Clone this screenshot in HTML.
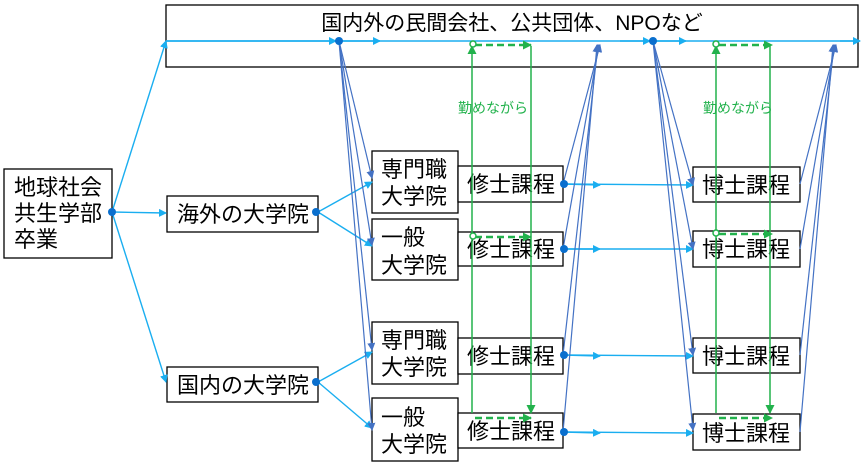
<!DOCTYPE html>
<html><head><meta charset="utf-8"><style>
html,body{margin:0;padding:0;background:#fff;}
svg{display:block;font-family:"Liberation Sans","Noto Sans CJK JP",sans-serif;}
</style></head><body>
<svg width="866" height="468" viewBox="0 0 866 468">
<defs>
<marker id="al" markerWidth="8" markerHeight="8" refX="7" refY="4" orient="auto" markerUnits="userSpaceOnUse"><path d="M0,0 L8,4 L0,8z" fill="#1aaef0"/></marker>
<marker id="ad" markerWidth="8" markerHeight="8" refX="7" refY="4" orient="auto" markerUnits="userSpaceOnUse"><path d="M0,0 L8,4 L0,8z" fill="#4472c4"/></marker>
<marker id="ag" markerWidth="9" markerHeight="9" refX="8" refY="4.5" orient="auto" markerUnits="userSpaceOnUse"><path d="M0,0 L9,4.5 L0,9z" fill="#22b24c"/></marker>
</defs>
<g stroke="#000" stroke-width="1.3" fill="#fff">
<rect x="166" y="5" width="692" height="62"/>
<rect x="4" y="169" width="108" height="89"/>
<rect x="167" y="196" width="151" height="36"/>
<rect x="167" y="367" width="151" height="35"/>
<rect x="372" y="151" width="86" height="62"/>
<rect x="372" y="219" width="86" height="61"/>
<rect x="372" y="322" width="86" height="62"/>
<rect x="372" y="398" width="86" height="63"/>
<rect x="458" y="166" width="105" height="36"/>
<rect x="458" y="232" width="105" height="34"/>
<rect x="458" y="338" width="105" height="36"/>
<rect x="458" y="413" width="105" height="35"/>
<rect x="693" y="167" width="107" height="35"/>
<rect x="693" y="231" width="107" height="36"/>
<rect x="693" y="338" width="107" height="35"/>
<rect x="693" y="414" width="107" height="36"/>
</g>
<g font-size="22" fill="#000">
<text x="512" y="30" text-anchor="middle" font-size="21">国内外の民間会社、公共団体、NPOなど</text>
<text x="14" y="195">地球社会</text>
<text x="14" y="221">共生学部</text>
<text x="14" y="247">卒業</text>
<text x="243" y="222" text-anchor="middle">海外の大学院</text>
<text x="243" y="393" text-anchor="middle">国内の大学院</text>
<text x="381" y="177">専門職</text><text x="381" y="204">大学院</text>
<text x="381" y="245">一般</text><text x="381" y="273">大学院</text>
<text x="381" y="348">専門職</text><text x="381" y="375">大学院</text>
<text x="381" y="425">一般</text><text x="381" y="452">大学院</text>
<text x="511" y="192" text-anchor="middle">修士課程</text>
<text x="511" y="257" text-anchor="middle">修士課程</text>
<text x="511" y="364" text-anchor="middle">修士課程</text>
<text x="511" y="439" text-anchor="middle">修士課程</text>
<text x="746" y="193" text-anchor="middle">博士課程</text>
<text x="746" y="257" text-anchor="middle">博士課程</text>
<text x="746" y="364" text-anchor="middle">博士課程</text>
<text x="746" y="441" text-anchor="middle">博士課程</text>
</g>
<g stroke="#1aaef0" stroke-width="1.4" fill="none">
<line x1="166" y1="41" x2="858" y2="41"/>
<line x1="166" y1="41" x2="336" y2="41" marker-end="url(#al)"/>
<line x1="339" y1="41" x2="380" y2="41" marker-end="url(#al)"/>
<line x1="653" y1="41" x2="686" y2="41" marker-end="url(#al)"/>
<line x1="620" y1="41" x2="650" y2="41" marker-end="url(#al)"/>
<line x1="840" y1="41" x2="860" y2="41" marker-end="url(#al)"/>
<line x1="112" y1="212" x2="166" y2="41" marker-end="url(#al)"/>
<line x1="112" y1="212" x2="166" y2="213" marker-end="url(#al)"/>
<line x1="112" y1="212" x2="166" y2="382" marker-end="url(#al)"/>
<line x1="318" y1="212" x2="372" y2="182" marker-end="url(#al)"/>
<line x1="318" y1="212" x2="372" y2="246" marker-end="url(#al)"/>
<line x1="318" y1="382" x2="372" y2="352" marker-end="url(#al)"/>
<line x1="318" y1="382" x2="372" y2="428" marker-end="url(#al)"/>
<line x1="563" y1="184" x2="693" y2="185" marker-end="url(#al)"/>
<line x1="563" y1="249" x2="693" y2="249" marker-end="url(#al)"/>
<line x1="563" y1="355" x2="693" y2="356" marker-end="url(#al)"/>
<line x1="563" y1="432" x2="693" y2="433" marker-end="url(#al)"/>
<line x1="563" y1="184" x2="600" y2="185" marker-end="url(#al)"/>
<line x1="563" y1="249" x2="600" y2="249" marker-end="url(#al)"/>
<line x1="563" y1="355" x2="600" y2="356" marker-end="url(#al)"/>
<line x1="563" y1="432" x2="600" y2="433" marker-end="url(#al)"/>
</g>
<g stroke="#4472c4" stroke-width="1.2" fill="none">
<line x1="339" y1="41" x2="372" y2="178" marker-end="url(#ad)"/>
<line x1="339" y1="41" x2="372" y2="245" marker-end="url(#ad)"/>
<line x1="339" y1="41" x2="372" y2="350" marker-end="url(#ad)"/>
<line x1="339" y1="41" x2="372" y2="430" marker-end="url(#ad)"/>
<line x1="563" y1="184" x2="600" y2="45" marker-end="url(#ad)"/>
<line x1="563" y1="249" x2="599" y2="45" marker-end="url(#ad)"/>
<line x1="563" y1="355" x2="598" y2="45" marker-end="url(#ad)"/>
<line x1="563" y1="432" x2="597" y2="45" marker-end="url(#ad)"/>
<line x1="653" y1="41" x2="693" y2="185" marker-end="url(#ad)"/>
<line x1="653" y1="41" x2="693" y2="249" marker-end="url(#ad)"/>
<line x1="653" y1="41" x2="693" y2="355" marker-end="url(#ad)"/>
<line x1="653" y1="41" x2="693" y2="430" marker-end="url(#ad)"/>
<line x1="800" y1="184" x2="836" y2="45" marker-end="url(#ad)"/>
<line x1="800" y1="249" x2="835" y2="45" marker-end="url(#ad)"/>
<line x1="800" y1="355" x2="834" y2="45" marker-end="url(#ad)"/>
<line x1="800" y1="432" x2="833" y2="45" marker-end="url(#ad)"/>
</g>
<g fill="#0a6fce">
<circle cx="112" cy="212" r="4"/><circle cx="316" cy="212" r="4"/><circle cx="316" cy="382" r="4"/>
<circle cx="339" cy="41" r="4"/><circle cx="653" cy="41" r="4"/>
<circle cx="564" cy="184" r="4"/><circle cx="564" cy="249" r="4"/><circle cx="564" cy="355" r="4"/><circle cx="564" cy="432" r="4"/>
</g>
<g stroke="#22b24c" stroke-width="1.5" fill="none">
<line x1="472" y1="413" x2="472" y2="46" marker-end="url(#ag)"/>
<line x1="531" y1="46" x2="531" y2="413" marker-end="url(#ag)"/>
<line x1="716" y1="413" x2="716" y2="46" marker-end="url(#ag)"/>
<line x1="770" y1="46" x2="770" y2="413" marker-end="url(#ag)"/>
<g stroke-width="2.5" stroke-dasharray="7,4">
<line x1="475" y1="45" x2="531" y2="45" marker-end="url(#ag)"/>
<line x1="475" y1="237" x2="531" y2="237" marker-end="url(#ag)"/>
<line x1="475" y1="418" x2="531" y2="418" marker-end="url(#ag)"/>
<line x1="719" y1="45" x2="772" y2="45" marker-end="url(#ag)"/>
<line x1="719" y1="234" x2="772" y2="234" marker-end="url(#ag)"/>
<line x1="719" y1="418" x2="772" y2="418" marker-end="url(#ag)"/>
</g>
<circle cx="473" cy="44" r="3" fill="#fff"/><circle cx="473" cy="236" r="3" fill="#fff"/>
<circle cx="716" cy="44" r="3" fill="#fff"/><circle cx="716" cy="233" r="3" fill="#fff"/>
</g>
<text x="458" y="113" font-size="14" fill="#22b24c">勤めながら</text>
<text x="703" y="113" font-size="14" fill="#22b24c">勤めながら</text>
</svg>
</body></html>
